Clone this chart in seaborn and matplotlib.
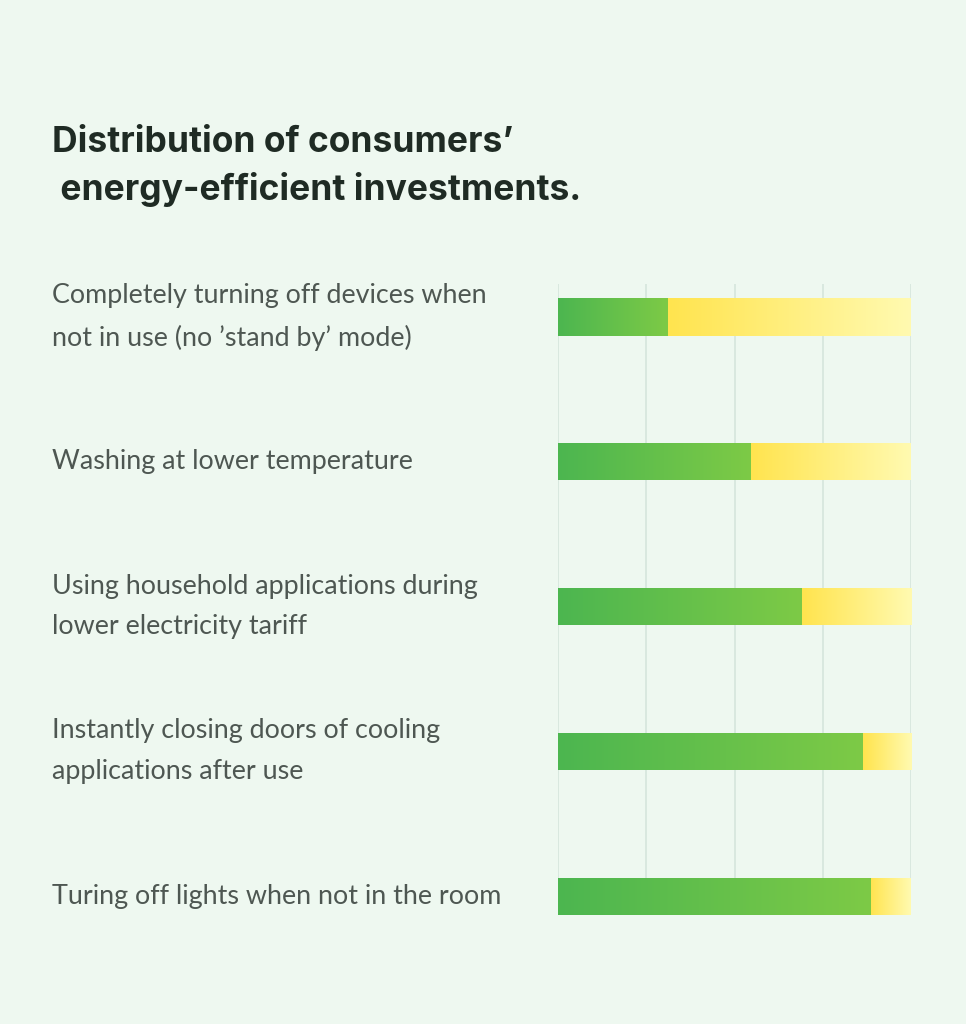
import numpy as np
import pandas as pd
import matplotlib
matplotlib.use("Agg")
import matplotlib.pyplot as plt
import seaborn as sns
from matplotlib.colors import LinearSegmentedColormap
from matplotlib.transforms import blended_transform_factory

# ---- data ----
categories = [
    "Completely turning off devices when\nnot in use (no \u2019stand by\u2019 mode)",
    "Washing at lower temperature",
    "Using household applications during\nlower electricity tariff",
    "Instantly closing doors of cooling\napplications after use",
    "Turing off lights when not in the room",
]
share_yes = [31, 54.5, 69, 86.3, 88.5]
share_total = [100, 100, 100, 100, 100]
grid_ticks = [0, 25, 50, 75, 100]
title = "Distribution of consumers\u2019\n energy-efficient investments."

df = pd.DataFrame({"category": categories, "yes": share_yes, "total": share_total})

BG = "#eef8f0"
sns.set_theme(style="white")
plt.rcParams["font.family"] = ["Lato", "DejaVu Sans"]

fig = plt.figure(figsize=(9.66, 10.24), dpi=100, facecolor=BG)
ax = fig.add_axes([558 / 966, 1 - 915 / 1024, (911 - 558) / 966, (915 - 284) / 1024])
ax.set_facecolor(BG)

bw = 0.256
sns.barplot(data=df, y="category", x="total", orient="h", color="#ffe55a",
            width=bw, ax=ax, saturation=1)
n_total = len(ax.patches)
sns.barplot(data=df, y="category", x="yes", orient="h", color="#5cbc4c",
            width=bw, ax=ax, saturation=1)

green_cmap = LinearSegmentedColormap.from_list("g", ["#4cb650", "#7dca46"])
yellow_cmap = LinearSegmentedColormap.from_list("y", ["#ffe44e", "#fffab0"])
grad = np.linspace(0, 1, 256).reshape(1, -1)

patches = list(ax.patches)
for i, p in enumerate(patches):
    bb = p.get_bbox()
    y0, y1 = bb.y0, bb.y1
    if i < n_total:
        x0 = share_yes[i]
        x1 = bb.x1
        cmap = yellow_cmap
    else:
        x0, x1 = bb.x0, bb.x1
        cmap = green_cmap
    p.set_facecolor("none")
    p.set_edgecolor("none")
    im = ax.imshow(grad, aspect="auto", cmap=cmap,
                   extent=(x0, x1, y1, y0), zorder=2, interpolation="bicubic")
    im.set_clip_path(p)

ax.set_xlim(0, 100)
ax.set_ylim(4.131, -0.228)
ax.set_xticks(grid_ticks)
ax.set_xticklabels([])
ax.set_yticks([])
ax.tick_params(length=0)
for x in grid_ticks:
    ax.axvline(x, color="#d3e4da", lw=1.1, zorder=1)
for s in ax.spines.values():
    s.set_visible(False)
ax.set_xlabel("")
ax.set_ylabel("")

trans = blended_transform_factory(fig.transFigure, ax.transData)
for i, lab in enumerate(categories):
    ax.text(52 / 966, i, lab, transform=trans, ha="left", va="center",
            fontsize=19.4, color="#4e5752", linespacing=1.78,
            family=["Lato", "DejaVu Sans"], clip_on=False)

fig.text(52 / 966, 1 - 126 / 1024, title, ha="left", va="top", fontsize=25.5,
         fontweight="bold", color="#1f2b24", linespacing=1.45,
         family=["Inter", "DejaVu Sans"])

fig.savefig("out.png", dpi=100, facecolor=BG)
